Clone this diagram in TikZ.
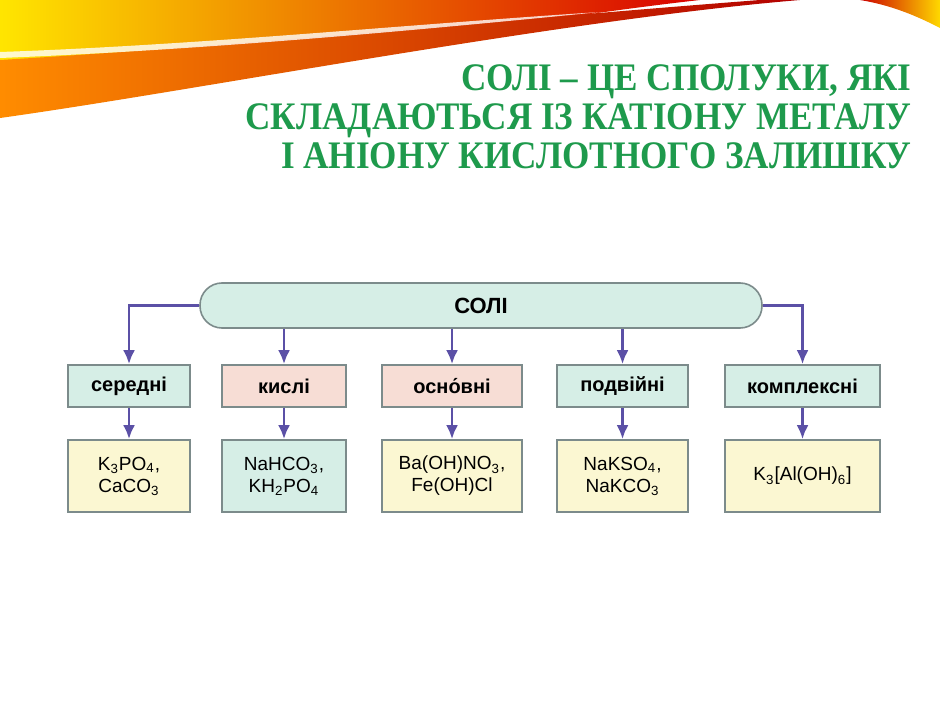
\documentclass[tikz,border=0pt]{standalone}
\usepackage{fontspec}
\setmainfont{Liberation Sans}
\newfontfamily\titlefont[FakeStretch=0.9]{Liberation Serif}
\usetikzlibrary{positioning,arrows.meta}
\definecolor{titlegreen}{HTML}{1E9A4C}
\definecolor{boxteal}{HTML}{D6EEE6}
\definecolor{boxpink}{HTML}{F7DDD5}
\definecolor{boxyellow}{HTML}{FBF7D2}
\definecolor{boxline}{HTML}{7C8B8B}
\definecolor{arrowviolet}{HTML}{5B50A6}
\newcommand{\sub}[1]{\textsubscript{#1}}

\begin{document}
\begin{tikzpicture}[x=0.5pt,y=-0.5pt,
    kind/.style={draw=boxline,line width=0.8pt,minimum height=21pt,
      font=\fontsize{10}{12}\selectfont\bfseries,inner sep=0pt},
    sample/.style={draw=boxline,line width=0.8pt,fill=boxyellow,minimum height=36pt,
      font=\fontsize{9.5}{11}\selectfont,align=center,inner sep=0pt},
    link/.style={draw=arrowviolet,line width=1.4pt,-{Latex[length=7pt,width=6pt]}}]
    \useasboundingbox (0,0) rectangle (940,705);

    % swoosh
    \shade[left color=yellow!80!orange,right color=red!85!black]
      (0,0) -- (700,0) .. controls (520,20) and (250,70) .. (0,95) -- cycle;
    \shade[left color=orange!90!yellow,right color=red!70!black]
      (0,60) .. controls (250,45) and (500,20) .. (760,0) -- (800,0)
      .. controls (560,20) and (200,90) .. (0,118) -- cycle;
    \fill[white,opacity=0.8] (0,52) .. controls (200,45) and (400,25) .. (600,12)
      .. controls (400,32) and (200,50) .. (0,58) -- cycle;
    \shade[left color=red!80!black,right color=yellow!70!orange]
      (860,0) -- (940,0) -- (940,28) .. controls (915,15) and (890,5) .. (860,0) -- cycle;

    % title
    \node[anchor=north east,align=right,text=titlegreen,inner sep=0pt,
      font=\titlefont\bfseries\fontsize{19.5}{19.5}\selectfont]
      (title) at (912,64) {СОЛІ – ЦЕ СПОЛУКИ, ЯКІ\\СКЛАДАЮТЬСЯ ІЗ КАТІОНУ МЕТАЛУ\\І АНІОНУ КИСЛОТНОГО ЗАЛИШКУ};

    % main box
    \node[draw=boxline,line width=0.8pt,fill=boxteal,rounded corners=11pt,
      minimum width=281pt,minimum height=22.5pt,
      font=\fontsize{11}{13}\selectfont\bfseries] (soli) at (481,305.5) {СОЛІ};

    % kinds
    \node[kind,fill=boxteal,minimum width=61pt] (serednі) at (129,386) {середні};
    \node[kind,fill=boxpink,minimum width=62pt] (kyslі) at (284,386) {кислі};
    \node[kind,fill=boxpink,minimum width=70pt] (osnovnі) at (452,386) {осно́вні};
    \node[kind,fill=boxteal,minimum width=65.5pt] (podvіinі) at (622.5,386) {подвійні};
    \node[kind,fill=boxteal,minimum width=77.5pt] (kompleksnі) at (802.5,386) {комплексні};

    % samples
    \node[sample,minimum width=61pt] (ex1) at (129,476) {K\sub{3}PO\sub{4},\\CaCO\sub{3}};
    \node[sample,fill=boxteal,minimum width=62pt] (ex2) at (284,476) {NaHCO\sub{3},\\KH\sub{2}PO\sub{4}};
    \node[sample,minimum width=70pt] (ex3) at (452,476) {Ba(OH)NO\sub{3},\\Fe(OH)Cl};
    \node[sample,minimum width=65.5pt] (ex4) at (622.5,476) {NaKSO\sub{4},\\NaKCO\sub{3}};
    \node[sample,minimum width=77.5pt] (ex5) at (802.5,476) {K\sub{3}[Al(OH)\sub{6}]};

    % arrows
    \draw[link] (soli.west) -| (serednі.north);
    \draw[link] (soli.east) -| (kompleksnі.north);
    \draw[link] (soli.south -| kyslі) -- (kyslі.north);
    \draw[link] (soli.south -| osnovnі) -- (osnovnі.north);
    \draw[link] (soli.south -| podvіinі) -- (podvіinі.north);
    \foreach \k/\e in {serednі/ex1,kyslі/ex2,osnovnі/ex3,podvіinі/ex4,kompleksnі/ex5}
      \draw[link] (\k.south) -- (\e.north);
\end{tikzpicture}
\end{document}
